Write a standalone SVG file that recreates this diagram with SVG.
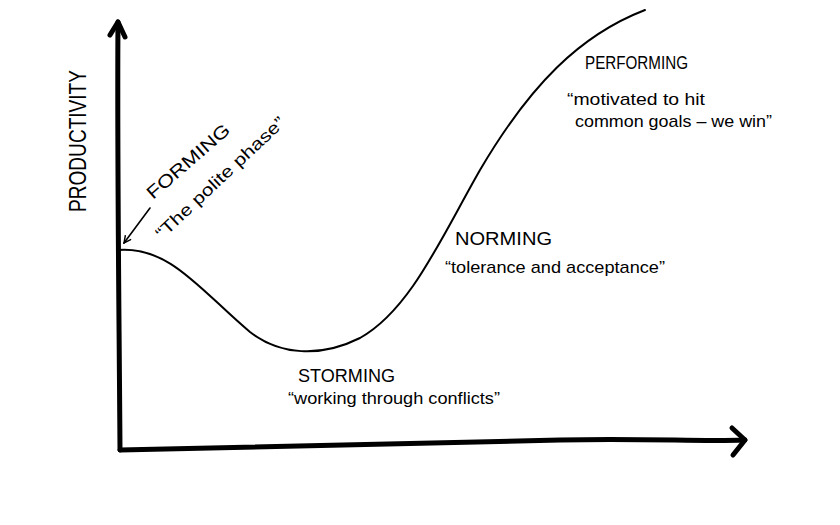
<svg xmlns="http://www.w3.org/2000/svg" width="840" height="525" viewBox="0 0 840 525">
<style>
.axis{fill:none;stroke:#000;stroke-width:5;stroke-linecap:round;stroke-linejoin:round}
.curve{fill:none;stroke:#000;stroke-width:2;stroke-linecap:round}
.ptr{fill:none;stroke:#000;stroke-width:1.6;stroke-linecap:round}
.t{font-family:"Liberation Sans",Arial,sans-serif;fill:#000}
.cap{font-size:18px}
.q{font-size:17px}
</style>
<defs>
<marker id="ah" viewBox="0 0 10 10" refX="9" refY="5" markerWidth="9" markerHeight="9" orient="auto" markerUnits="userSpaceOnUse">
<path d="M1,1 L9,5 L1,9" fill="none" stroke="#000" stroke-width="1.6"/>
</marker>
</defs>
<rect width="840" height="525" fill="#fff"/>
<g id="connectors">
<path class="axis" d="M120,450 C119,300 117,150 118,22"/>
<path class="axis" d="M110,35 L118,22 L125,37"/>
<path class="axis" d="M120,450 C300,446 450,442 560,440 C650,438 700,442 745,440"/>
<path class="axis" d="M732,428 L745,440 L733,455"/>
<path class="curve" d="M118,250 C170,246 200,290 250,332 C280,355 320,358 360,338 C410,310 440,240 480,170 C530,85 580,35 645,10"/>
<path class="ptr" d="M150,208 L124,243" marker-end="url(#ah)"/>
</g>
<g id="axis-label">
<text class="t" transform="translate(86,212) rotate(-90)" font-size="24" textLength="142" lengthAdjust="spacingAndGlyphs">PRODUCTIVITY</text>
</g>
<g id="forming">
<text class="t cap" transform="translate(153,200) rotate(-41)" textLength="104" lengthAdjust="spacingAndGlyphs">FORMING</text>
<text class="t q" transform="translate(162,240) rotate(-43)" textLength="170" lengthAdjust="spacingAndGlyphs">“The polite phase”</text>
</g>
<g id="storming">
<text class="t cap" x="298" y="382" textLength="97" lengthAdjust="spacingAndGlyphs">STORMING</text>
<text class="t q" x="288" y="404" textLength="212" lengthAdjust="spacingAndGlyphs">“working through conflicts”</text>
</g>
<g id="norming">
<text class="t cap" x="455" y="245" textLength="97" lengthAdjust="spacingAndGlyphs">NORMING</text>
<text class="t q" x="445" y="273" textLength="220" lengthAdjust="spacingAndGlyphs">“tolerance and acceptance”</text>
</g>
<g id="performing">
<text class="t cap" x="585" y="69" textLength="103" lengthAdjust="spacingAndGlyphs">PERFORMING</text>
<text class="t q" x="567" y="105" textLength="138" lengthAdjust="spacingAndGlyphs">“motivated to hit</text>
<text class="t q" x="575" y="127" textLength="197" lengthAdjust="spacingAndGlyphs">common goals – we win”</text>
</g>
</svg>
